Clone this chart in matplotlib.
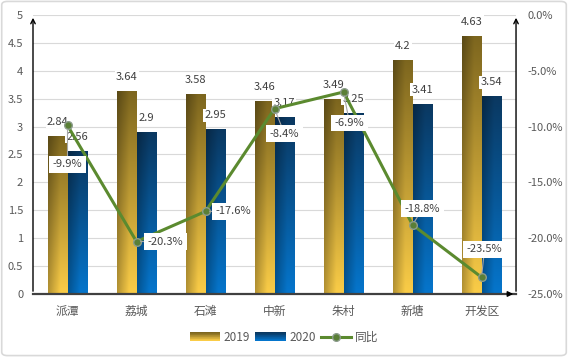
import matplotlib
matplotlib.use('Agg')
import matplotlib.pyplot as plt
from matplotlib.patches import FancyBboxPatch, Rectangle
from matplotlib.legend_handler import HandlerBase
from matplotlib.lines import Line2D
import numpy as np

plt.rcParams['font.family'] = ['Noto Sans CJK SC', 'DejaVu Sans']

# data
categories = ['派潭', '荔城', '石滩', '中新', '朱村', '新塘', '开发区']
values_2019 = [2.84, 3.64, 3.58, 3.46, 3.49, 4.2, 4.63]
values_2020 = [2.56, 2.9, 2.95, 3.17, 3.25, 3.41, 3.54]
yoy = [-9.9, -20.3, -17.6, -8.4, -6.9, -18.8, -23.5]
# label offsets (pixels) for the yoy labels
yoy_offsets = [(0, -39), (29, 0), (28, 0), (10, -25), (6, -31), (10, 16), (3, 28)]

gold_top, gold_bot = np.array([0.49, 0.40, 0.12]), np.array([0.98, 0.80, 0.28])
blue_top, blue_bot = np.array([0.04, 0.22, 0.38]), np.array([0.02, 0.46, 0.80])
tick_col = '#595959'
line_col = '#5b8a2f'


def gradient_img(top, bot, ny=64, nx=24):
    t = np.linspace(0, 1, ny)[:, None, None]
    s = np.linspace(0, 1, nx)[None, :, None]
    img = bot + (top - bot) * t
    shade = 0.72 + 0.28 * np.clip(s * 1.6, 0, 1)
    return np.clip(img * shade, 0, 1)


def grad_bar(ax, rect, top, bot):
    x0, y0 = rect.get_xy()
    w, h = rect.get_width(), rect.get_height()
    im = ax.imshow(gradient_img(top, bot), extent=[x0, x0 + w, y0, y0 + h],
                   origin='lower', aspect='auto', zorder=2, interpolation='bilinear')
    im.set_clip_path(rect)
    rect.set_facecolor('none')
    rect.set_edgecolor('none')


class GradHandler(HandlerBase):
    def __init__(self, top, bot):
        super().__init__()
        self.top, self.bot = top, bot

    def create_artists(self, legend, orig, xd, yd, width, height, fontsize, trans):
        arts = []
        n = 12
        for i in range(n):
            c = self.bot + (self.top - self.bot) * (i / (n - 1))
            r = Rectangle((-xd, -yd + i * height / n), width, height / n + 0.3,
                          facecolor=c, edgecolor='none', transform=trans)
            arts.append(r)
        return arts


fig = plt.figure(figsize=(5.68, 3.57), dpi=100)
fig.patches.append(FancyBboxPatch((0.003, 0.004), 0.994, 0.992, boxstyle='round,pad=0,rounding_size=0.01',
                                  transform=fig.transFigure, facecolor='none', edgecolor='#d9d9d9', lw=1.2))
ax = fig.add_axes([0.0581, 0.1765, 0.8504, 0.7815])
ax.set_facecolor('none')

x = np.arange(len(categories))
w = 0.28
b1 = ax.bar(x - w / 2, values_2019, w, zorder=2)
b2 = ax.bar(x + w / 2, values_2020, w, zorder=2)
for r in b1:
    grad_bar(ax, r, gold_top, gold_bot)
for r in b2:
    grad_bar(ax, r, blue_top, blue_bot)

for xi, v in zip(x - w / 2, values_2019):
    ax.annotate(f'{v:g}', (xi, v), xytext=(0, 14), textcoords='offset pixels', ha='center', va='center',
                fontsize=8, color='#404040', zorder=3,
                bbox=dict(facecolor='white', edgecolor='none', pad=1))
for xi, v in zip(x + w / 2, values_2020):
    ax.annotate(f'{v:g}', (xi, v), xytext=(0, 14), textcoords='offset pixels', ha='center', va='center',
                fontsize=8, color='#404040', zorder=3,
                bbox=dict(facecolor='white', edgecolor='none', pad=1))

ax.set_xlim(-0.5, len(categories) - 0.5)
ax.set_ylim(0, 5)
ax.set_yticks(np.arange(0, 5.01, 0.5))
ax.set_yticklabels([f'{t:g}' for t in np.arange(0, 5.01, 0.5)])
ax.set_xticks(x)
ax.set_xticklabels(categories)
ax.grid(axis='y', color='#d9d9d9', lw=0.8, zorder=0)
ax.set_axisbelow(True)
ax.tick_params(axis='y', length=0, pad=7, labelsize=8, labelcolor=tick_col)
ax.tick_params(axis='x', length=0, pad=8, labelsize=8.5, labelcolor=tick_col)
for s in ax.spines.values():
    s.set_visible(False)
ax.axhline(0, color='#404040', lw=1.6, zorder=3, clip_on=False)
ax.annotate('', xy=(1.0, 0), xytext=(0.98, 0), xycoords='axes fraction',
            arrowprops=dict(arrowstyle='-|>', color='black', lw=1, mutation_scale=8))
ax.annotate('', xy=(0, 1.0), xytext=(0, 0), xycoords='axes fraction',
            arrowprops=dict(arrowstyle='->', color='black', lw=1, mutation_scale=8))

ax2 = ax.twinx()
ax2.set_ylim(-25, 0)
ax2.set_yticks(np.arange(-25, 0.1, 5))
ax2.set_yticklabels([f'{t:.1f}%' for t in np.arange(-25, 0.1, 5)])
ax2.tick_params(axis='y', length=0, pad=8, labelsize=8, labelcolor=tick_col)
for s in ax2.spines.values():
    s.set_visible(False)
ax2.annotate('', xy=(1, 1.0), xytext=(1, 0), xycoords='axes fraction',
             arrowprops=dict(arrowstyle='->', color='black', lw=1, mutation_scale=8))

ax2.plot(x, yoy, color=line_col, lw=2.2, marker='o', ms=5.5, mfc='#5a7f36', mec='#8c9c8c', mew=1,
         zorder=4)
for xi, v, off in zip(x, yoy, yoy_offsets):
    ax2.annotate(f'{v:.1f}%', (xi, v), xytext=off, textcoords='offset pixels', ha='center', va='center',
                 fontsize=8, color='#404040', zorder=5,
                 bbox=dict(facecolor='white', edgecolor='none', pad=2.5),
                 arrowprops=dict(arrowstyle='-', color='#a6a6a6', lw=0.8, shrinkA=0, shrinkB=3))

h1 = Rectangle((0, 0), 1, 1)
h2 = Rectangle((0, 0), 1, 1)
h3 = Line2D([], [], color=line_col, lw=2.2, marker='o', ms=5.5, mfc='#5a7f36', mec='#8c9c8c')
fig.legend([h1, h2, h3], ['2019', '2020', '同比'], loc='center', bbox_to_anchor=(0.5, 0.055), ncol=3,
           frameon=False, fontsize=8.5, handlelength=2.6, handletextpad=0.3, columnspacing=0.4,
           labelcolor=tick_col,
           handler_map={h1: GradHandler(gold_top, gold_bot), h2: GradHandler(blue_top, blue_bot)})

fig.savefig('out.png', dpi=100)
